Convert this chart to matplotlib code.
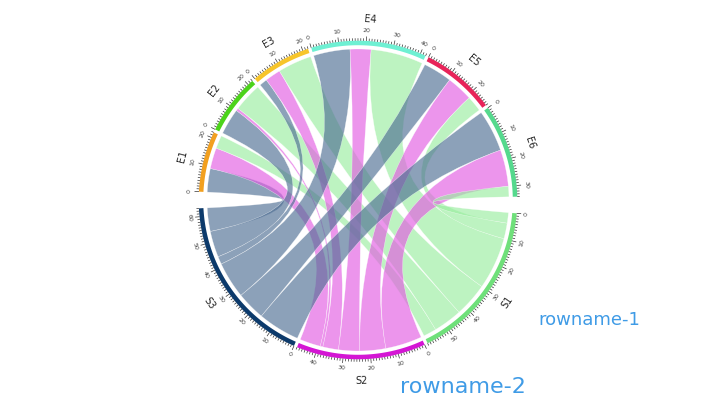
import numpy as np
import matplotlib.pyplot as plt
from matplotlib.path import Path
from matplotlib.patches import PathPatch

# chord matrix: rows = S3, S2, S1 ; columns = E1..E6
row_names = ["S3", "S2", "S1"]
col_names = ["E1", "E2", "E3", "E4", "E5", "E6"]
flows = np.array([
    [9, 10, 3, 14, 11, 16],   # S3
    [8, 1, 6, 8, 10, 14],     # S2
    [5, 11, 13, 20, 6, 4],    # S1
])
sector_colors = {"E1": "#f2a01f", "E2": "#4cd31a", "E3": "#f7c52b", "E4": "#6ff0d3",
                 "E5": "#e8245a", "E6": "#55d98d", "S1": "#6fe07a", "S2": "#d416d4",
                 "S3": "#0c3a6b"}
chord_colors = {"S3": "#4f6f94", "S2": "#e25ce2", "S1": "#9aeea0"}

BIG_GAP = 6.0
SMALL_GAP = 1.2
col_tot = flows.sum(axis=0)
row_tot = flows.sum(axis=1)
order = col_names + ["S1", "S2", "S3"]
sizes = dict(zip(col_names, col_tot))
sizes.update({n: row_tot[i] for i, n in enumerate(row_names)})
total = sum(sizes.values())
deg_per = (360 - 2 * BIG_GAP - 7 * SMALL_GAP) / total

# clockwise from left (180 deg)
start = {}
pos = 180 - BIG_GAP / 2
for n in order:
    if n == "S1":
        pos -= BIG_GAP - SMALL_GAP
    start[n] = pos
    pos -= sizes[n] * deg_per + SMALL_GAP


def ang(n, v):
    return np.radians(start[n] - v * deg_per)


def rot(d):
    d = d % 360
    return d - 90 if d <= 180 else d + 90


R = 1.0
W, H = 720, 409
cx, cy, scale = 358, 200, 151
fig = plt.figure(figsize=(7.2, 4.09), dpi=100)
ax = fig.add_axes([0, 0, 1, 1])
ax.set_xlim(-cx / scale, (W - cx) / scale)
ax.set_ylim(-(H - cy) / scale, cy / scale)
ax.axis("off")

e_off = {n: 0.0 for n in col_names}
s_off = {n: 0.0 for n in row_names}
links = []
# E sectors: S3, S2, S1 clockwise
for j, e in enumerate(col_names):
    for i, s in enumerate(row_names):
        links.append([s, e, e_off[e], flows[i, j]])
        e_off[e] += flows[i, j]
# S sectors: E6..E1 clockwise
seg_s = {}
for i, s in enumerate(row_names):
    for j in range(len(col_names) - 1, -1, -1):
        seg_s[(s, col_names[j])] = s_off[s]
        s_off[s] += flows[i, j]


def arc(a0, a1, n=30):
    t = np.linspace(a0, a1, n)
    return np.column_stack([R * np.cos(t), R * np.sin(t)])


for s, e, eo, v in links:
    if v == 0:
        continue
    a0, a1 = ang(e, eo), ang(e, eo + v)
    so = seg_s[(s, e)]
    b0, b1 = ang(s, so), ang(s, so + v)
    p1 = arc(a0, a1)
    p2 = arc(b0, b1)
    verts = list(p1) + [(0, 0), tuple(p2[0])] + list(p2[1:]) + [(0, 0), tuple(p1[0])]
    codes = ([Path.MOVETO] + [Path.LINETO] * (len(p1) - 1) + [Path.CURVE3, Path.CURVE3]
             + [Path.LINETO] * (len(p2) - 1) + [Path.CURVE3, Path.CURVE3])
    ax.add_patch(PathPatch(Path(verts, codes), facecolor=chord_colors[s], alpha=0.65,
                           edgecolor="white", lw=0.3))

# sector tracks, ticks, labels
for n in order:
    a0, a1 = ang(n, 0), ang(n, sizes[n])
    t = np.linspace(a0, a1, 60)
    r_in, r_out = 1.025, 1.055
    xs = np.concatenate([r_in * np.cos(t), r_out * np.cos(t[::-1])])
    ys = np.concatenate([r_in * np.sin(t), r_out * np.sin(t[::-1])])
    ax.fill(xs, ys, color=sector_colors[n], lw=0)
    for v in range(0, int(sizes[n]) + 1):
        a = ang(n, v)
        L = 0.025 if v % 10 == 0 else 0.012
        ax.plot([1.057 * np.cos(a), (1.057 + L) * np.cos(a)],
                [1.057 * np.sin(a), (1.057 + L) * np.sin(a)], color="#333333", lw=0.5)
        if v % 10 == 0:
            ax.text(1.12 * np.cos(a), 1.12 * np.sin(a), str(v), fontsize=4.5, color="#444444",
                    ha="center", va="center", rotation=rot(np.degrees(a)))
    am = (a0 + a1) / 2
    ax.text(1.2 * np.cos(am), 1.2 * np.sin(am), n, fontsize=7, color="#222222",
            ha="center", va="center", rotation=rot(np.degrees(am)))

fig.text(538 / W, 1 - 320 / H, "rowname-1", fontsize=13, color="#3f9be6", va="center")
fig.text(400 / W, 1 - 387 / H, "rowname-2", fontsize=16, color="#3f9be6", va="center")

fig.savefig("out.png", dpi=100)
